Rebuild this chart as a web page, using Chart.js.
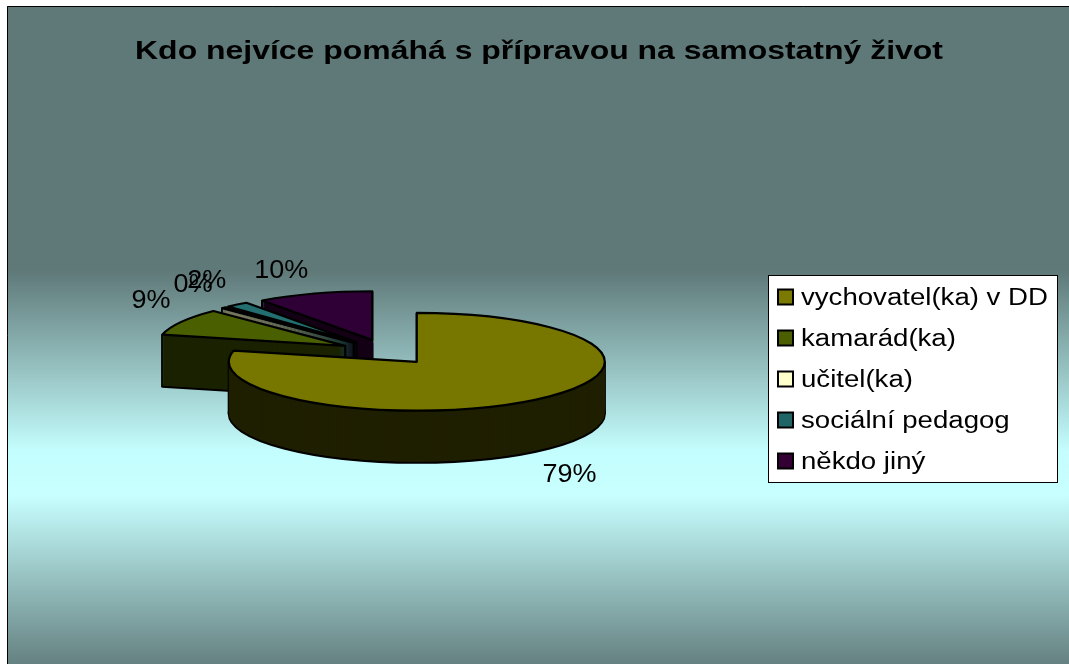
<!DOCTYPE html>
<html>
<head>
<meta charset="utf-8">
<script src="https://cdn.jsdelivr.net/npm/chart.js@4.4.1/dist/chart.umd.min.js"></script>
<style>
html,body{margin:0;padding:0;background:#ffffff;overflow:hidden;}
#wrap{width:1069px;height:664px;position:relative;}
canvas{display:block;}
</style>
</head>
<body>
<div id="wrap"><canvas id="c" width="1069" height="664"></canvas></div>
<script>
// ---- data ----
const chartTitle = 'Kdo nejvíce pomáhá s přípravou na samostatný život';
const categories = ['vychovatel(ka) v DD', 'kamarád(ka)', 'učitel(ka)', 'sociální pedagog', 'někdo jiný'];
const shares = [79, 9, 0.4, 2, 10];

// ---- styles ----
const topColors = ['#777700', '#4a6000', '#d2d2b4', '#236e6e', '#2e0035'];
const sideColors = ['#1f1f00', '#1a2200', '#77775f', '#0c2e2e', '#140016'];
const legendColors = ['#7b7900', '#4b5e00', '#ffffcc', '#1f6466', '#330033'];
const FONT = '"Liberation Sans", Arial, sans-serif';
const PIE = {squash: 0.26, depth: 52, explode: 48};

const bgPlugin = {
  id: 'bg',
  beforeDraw(chart) {
    const {ctx, width, height} = chart;
    ctx.save();
    ctx.fillStyle = '#ffffff';
    ctx.fillRect(0, 0, width, height);
    const top = 6;
    const span = height - top;
    const g = ctx.createLinearGradient(0, top, 0, height);
    const stop = (y, c) => g.addColorStop(Math.min(1, Math.max(0, (y - top) / span)), c);
    stop(6, '#5f7878'); stop(270, '#5f7878'); stop(450, '#c4fdfd'); stop(495, '#c8ffff'); stop(664, '#658181');
    ctx.fillStyle = g;
    ctx.fillRect(7, top, width, height);
    ctx.strokeStyle = '#000';
    ctx.lineWidth = 1;
    ctx.beginPath();
    ctx.moveTo(7.5, height); ctx.lineTo(7.5, 6.5); ctx.lineTo(width, 6.5);
    ctx.stroke();
    ctx.restore();
  }
};

function slicePath(ctx, cx, cy, rx, ry, a0, a1) {
  ctx.beginPath();
  ctx.moveTo(cx, cy);
  ctx.ellipse(cx, cy, rx, ry, 0, a0, a1, false);
  ctx.closePath();
}

const pie3d = {
  id: 'pie3d',
  beforeDatasetsDraw(chart) {
    const ctx = chart.ctx;
    const meta = chart.getDatasetMeta(0);
    const ds = chart.data.datasets[0];
    const {squash, depth, explode} = PIE;
    const geo = meta.data.map((arc, i) => {
      const p = arc.getProps(['x', 'y', 'startAngle', 'endAngle', 'outerRadius'], true);
      const mid = (p.startAngle + p.endAngle) / 2;
      return {
        i, a0: p.startAngle, a1: p.endAngle, mid,
        rx: p.outerRadius, ry: p.outerRadius * squash,
        cx: p.x + Math.cos(mid) * explode,
        cy: p.y + Math.sin(mid) * explode * squash
      };
    });
    ctx.save();
    ctx.lineJoin = 'round';
    const order = geo.slice().reverse();
    for (const s of order) {
      if (s.a1 - s.a0 <= 0) continue;
      ctx.strokeStyle = '#000';
      ctx.lineWidth = 2.2;
      slicePath(ctx, s.cx, s.cy + depth, s.rx, s.ry, s.a0, s.a1);
      ctx.fillStyle = sideColors[s.i];
      ctx.fill();
      ctx.stroke();
      const pt = a => [s.cx + s.rx * Math.cos(a), s.cy + s.ry * Math.sin(a)];
      const verts = [[s.cx, s.cy], pt(s.a0), pt(s.a1)];
      for (let k = -2; k <= 4; k++) {
        const a = k * Math.PI;
        if (a > s.a0 && a < s.a1) verts.push(pt(a));
      }
      ctx.beginPath();
      for (const [x, y] of verts) { ctx.moveTo(x, y); ctx.lineTo(x, y + depth); }
      ctx.stroke();
      for (let d = depth - 1; d >= 1; d--) {
        slicePath(ctx, s.cx, s.cy + d, s.rx, s.ry, s.a0, s.a1);
        ctx.fill();
      }
      slicePath(ctx, s.cx, s.cy, s.rx, s.ry, s.a0, s.a1);
      ctx.fillStyle = topColors[s.i];
      ctx.fill();
      ctx.stroke();
    }
    // percentage labels
    const total = ds.data.reduce((a, b) => a + b, 0);
    const LSX = 1.08;
    ctx.font = '25px ' + FONT;
    ctx.fillStyle = '#000';
    ctx.textAlign = 'center';
    ctx.textBaseline = 'middle';
    for (const s of geo) {
      const txt = Math.round(ds.data[s.i] / total * 100) + '%';
      const w = ctx.measureText(txt).width * LSX;
      const c = Math.cos(s.mid), sn = Math.sin(s.mid);
      const x = s.cx + c * (s.rx + 24) + Math.sign(c) * (w / 2) * Math.abs(sn);
      const y = s.cy + sn * (s.ry + 20) + (sn > 0 ? depth : 0) + Math.sign(sn) * 12 * Math.abs(c);
      ctx.save();
      ctx.translate(x, y);
      ctx.scale(LSX, 1);
      ctx.fillText(txt, 0, 0);
      ctx.restore();
    }
    ctx.restore();
    return false;
  }
};

const decorPlugin = {
  id: 'decor',
  afterDraw(chart) {
    const ctx = chart.ctx;
    ctx.save();
    // title
    ctx.font = 'bold 26px ' + FONT;
    ctx.fillStyle = '#000';
    ctx.textAlign = 'center';
    ctx.textBaseline = 'alphabetic';
    ctx.save();
    ctx.translate(539, 59);
    ctx.scale(1.229, 1);
    ctx.fillText(chart.options.plugins.title.text, 0, 0);
    ctx.restore();
    // legend
    const labels = chart.data.labels;
    ctx.fillStyle = '#ffffff';
    ctx.fillRect(768, 275, 290, 207);
    ctx.strokeStyle = '#000';
    ctx.lineWidth = 1;
    ctx.strokeRect(768.5, 275.5, 289, 207);
    ctx.font = '23px ' + FONT;
    ctx.textAlign = 'left';
    labels.forEach((lab, i) => {
      const cy = 297 + i * 41;
      ctx.fillStyle = legendColors[i];
      ctx.fillRect(778, cy - 7.5, 15, 15);
      ctx.lineWidth = 2;
      ctx.strokeStyle = '#000';
      ctx.strokeRect(778, cy - 7.5, 15, 15);
      ctx.fillStyle = '#000';
      ctx.save();
      ctx.translate(801, cy + 8.3);
      ctx.scale(1.2, 1);
      ctx.fillText(lab, 0, 0);
      ctx.restore();
    });
    ctx.restore();
  }
};

new Chart(document.getElementById('c'), {
  type: 'pie',
  data: {
    labels: categories,
    datasets: [{
      data: shares,
      backgroundColor: topColors,
      borderColor: '#000',
      borderWidth: 2,
      radius: 188
    }]
  },
  options: {
    responsive: false,
    animation: false,
    devicePixelRatio: 1,
    layout: {padding: {left: 0, right: 295, top: 40, bottom: 0}},
    plugins: {
      legend: {display: false},
      title: {display: false, text: chartTitle},
      tooltip: {enabled: false}
    }
  },
  plugins: [bgPlugin, pie3d, decorPlugin]
});
</script>
</body>
</html>
